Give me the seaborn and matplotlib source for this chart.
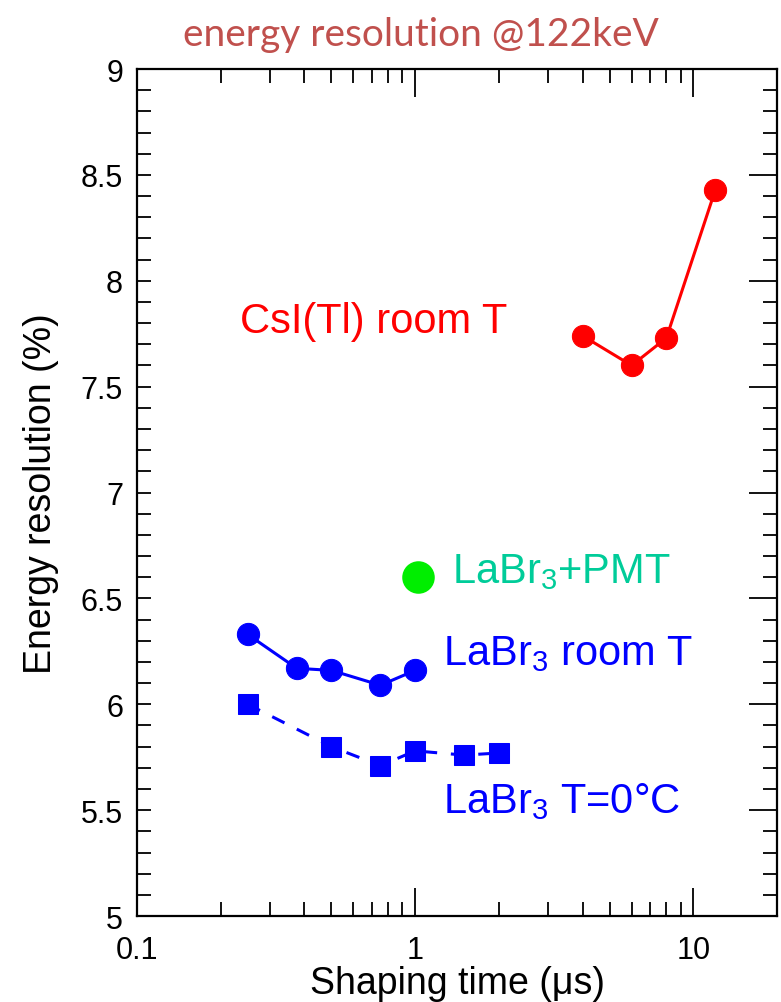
import matplotlib
matplotlib.use("Agg")
import matplotlib.pyplot as plt
import seaborn as sns
import pandas as pd
from matplotlib.ticker import LogLocator, MultipleLocator, FixedLocator, NullFormatter

# 데이터
csi_time = [4, 6, 8, 12]
csi_res = [7.74, 7.60, 7.73, 8.43]

labr_room_time = [0.25, 0.375, 0.5, 0.75, 1.0]
labr_room_res = [6.33, 6.17, 6.16, 6.09, 6.16]

labr_cold_time = [0.25, 0.5, 0.75, 1.0, 1.5, 2.0]
labr_cold_res = [6.00, 5.80, 5.71, 5.78, 5.76, 5.77]

pmt_time = [1.02]
pmt_res = [6.60]

x_ticks = [0.1, 1, 10]
x_ticklabels = ["0.1", "1", "10"]
y_ticks = [5, 5.5, 6, 6.5, 7, 7.5, 8, 8.5, 9]
y_ticklabels = ["5", "5.5", "6", "6.5", "7", "7.5", "8", "8.5", "9"]

sns.set_style("ticks")
plt.rcParams["font.family"] = ["Liberation Sans", "DejaVu Sans"]
plt.rcParams["mathtext.default"] = "regular"
plt.rcParams["text.color"] = "black"
plt.rcParams["axes.labelcolor"] = "black"
plt.rcParams["axes.edgecolor"] = "black"
plt.rcParams["xtick.color"] = "black"
plt.rcParams["ytick.color"] = "black"

fig = plt.figure(figsize=(7.81, 10.03), dpi=100)
ax = fig.add_axes([0.1754, 0.0857, 0.8196, 0.8445])

df_csi = pd.DataFrame({"t": csi_time, "r": csi_res})
df_room = pd.DataFrame({"t": labr_room_time, "r": labr_room_res})
df_cold = pd.DataFrame({"t": labr_cold_time, "r": labr_cold_res})
df_pmt = pd.DataFrame({"t": pmt_time, "r": pmt_res})

sns.lineplot(data=df_csi, x="t", y="r", ax=ax, color="#ff0000", linewidth=2.2,
             marker="o", markersize=16, markeredgecolor="#ff0000")
sns.lineplot(data=df_room, x="t", y="r", ax=ax, color="#0000ff", linewidth=2.2,
             marker="o", markersize=16, markeredgecolor="#0000ff")
sns.lineplot(data=df_cold, x="t", y="r", ax=ax, color="#0000ff", linewidth=2.2,
             marker="s", markersize=15, markeredgecolor="#0000ff",
             linestyle=(0, (4.5, 4.5)))
sns.scatterplot(data=df_pmt, x="t", y="r", ax=ax, color="#00ee00", s=470,
                edgecolor="#00ee00", zorder=3)

ax.set_xscale("log")
ax.set_xlim(0.1, 20)
ax.set_ylim(5, 9)

ax.xaxis.set_major_locator(FixedLocator(x_ticks))
ax.set_xticklabels(x_ticklabels)
ax.xaxis.set_minor_locator(LogLocator(base=10, subs=range(2, 10), numticks=20))
ax.xaxis.set_minor_formatter(NullFormatter())
ax.yaxis.set_major_locator(FixedLocator(y_ticks))
ax.set_yticklabels(y_ticklabels)
ax.yaxis.set_minor_locator(MultipleLocator(0.1))

ax.tick_params(which="both", direction="in", top=True, right=True, labelsize=22,
               width=1.3, colors="black")
ax.tick_params(which="major", length=20)
ax.tick_params(which="minor", length=10)
ax.tick_params(axis="x", which="major", pad=14)
ax.tick_params(axis="y", which="major", pad=10)
# 왼쪽 y축 눈금은 짧게 (원본 그림처럼)
for t in ax.yaxis.get_major_ticks():
    t.tick1line.set_markersize(10)
for sp in ax.spines.values():
    sp.set_linewidth(1.6)
    sp.set_color("black")

ax.set_xlabel("Shaping time (\u03bcs)", fontsize=27, labelpad=0)
ax.set_ylabel("Energy resolution (%)", fontsize=27, labelpad=16)

ax.text(0.235, 7.76, "CsI(Tl) room T", color="#ff0000", fontsize=30, va="baseline", ha="left")
ax.text(1.36, 6.575, "LaBr$_3$+PMT", color="#00cc99", fontsize=30, va="baseline", ha="left")
ax.text(1.26, 6.19, "LaBr$_3$ room T", color="#0000ff", fontsize=30, va="baseline", ha="left")
ax.text(1.26, 5.49, "LaBr$_3$ T=0°C", color="#0000ff", fontsize=30, va="baseline", ha="left")

fig.text(0.539, 0.954, "energy resolution @122keV", color="#c0504d", fontsize=28,
         family=["Lato", "DejaVu Sans"], ha="center", va="baseline")

plt.savefig("out.png", dpi=100)
